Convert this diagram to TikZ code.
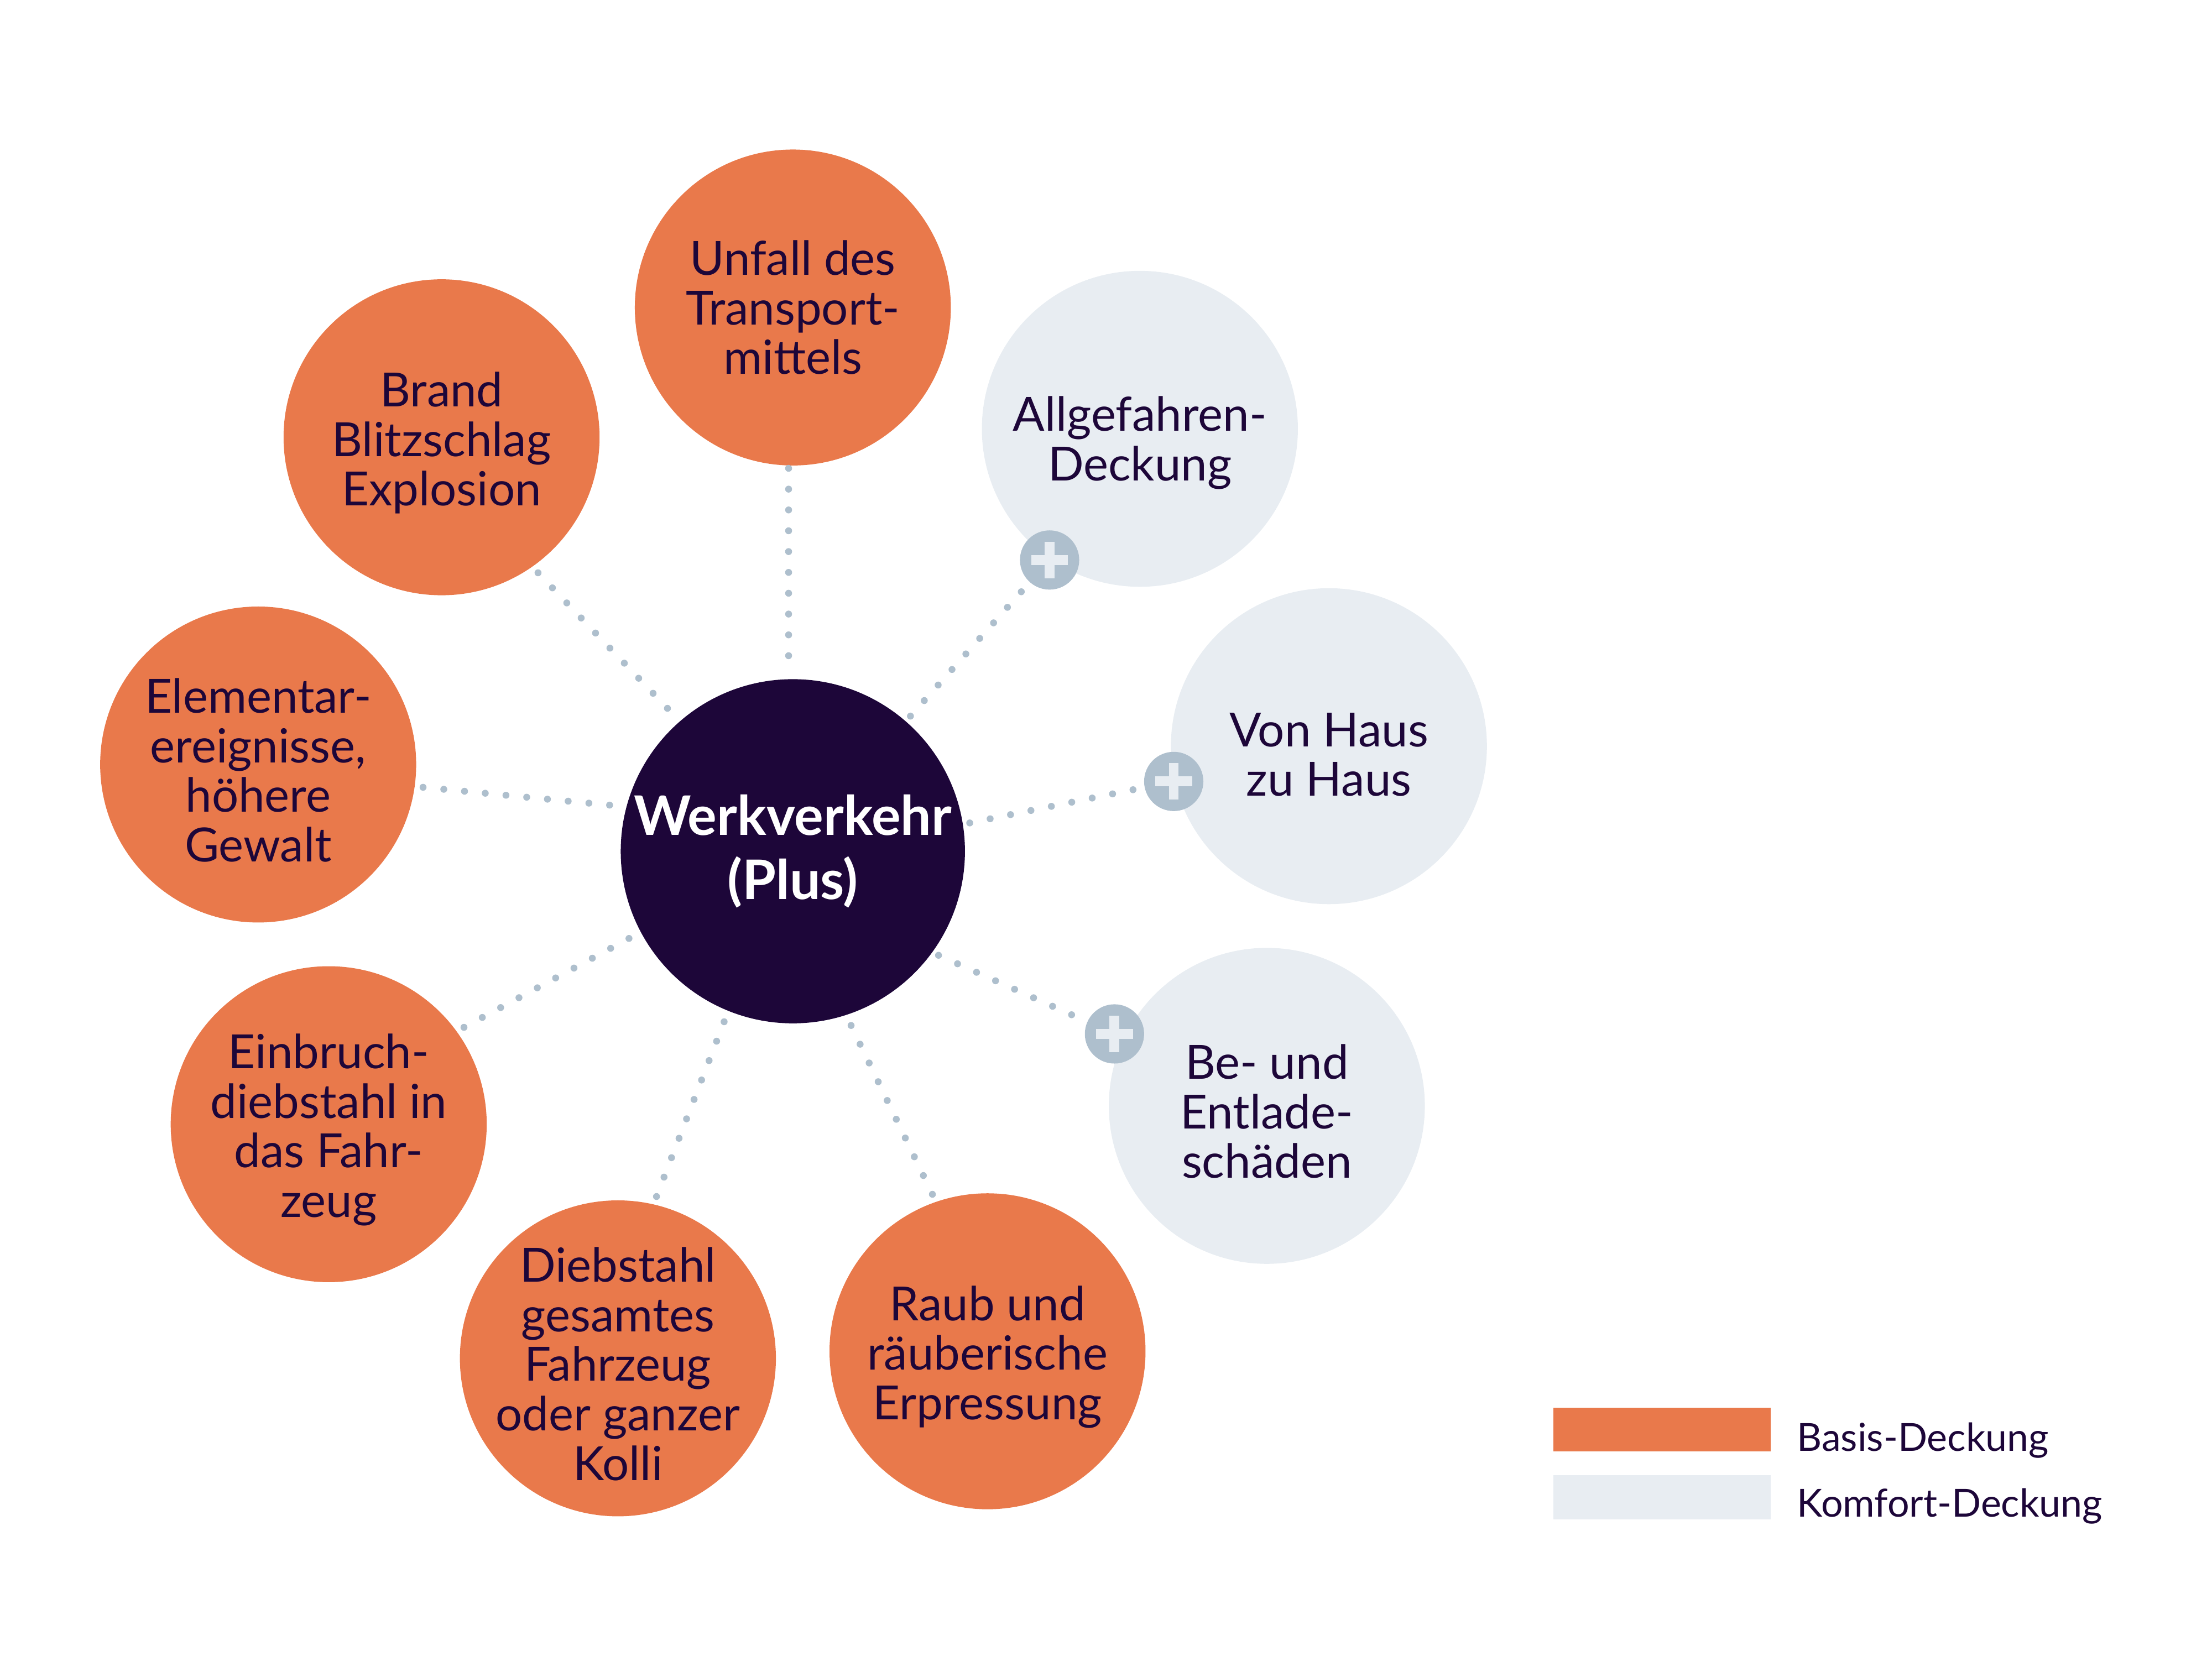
\documentclass[tikz,border=0pt]{standalone}
\usepackage{fontspec}
\setmainfont{Lato}
\definecolor{basisorange}{HTML}{E9794B}
\definecolor{komfortgray}{HTML}{E8EDF2}
\definecolor{navy}{HTML}{1D0639}
\definecolor{dotgray}{HTML}{AEBFCD}
\begin{document}
\begin{tikzpicture}[
    basis/.style={circle,fill=basisorange,minimum size=2.24cm,inner sep=0pt,outer sep=0pt},
    komfort/.style={basis,fill=komfortgray},
    caption/.style={align=center,text=navy,inner sep=0pt,yshift=-0.04cm,font=\fontsize{9.5}{10}\selectfont},
    core/.style={circle,fill=navy,minimum size=2.44cm,inner sep=0pt,outer sep=0pt,
      align=center,text=white,font=\bfseries\fontsize{11}{13}\selectfont},
    dots/.style={dotgray,line width=1.4pt,line cap=round,dash pattern=on 0pt off 4.2pt},
    plusmark/.style={circle,fill=dotgray,minimum size=0.42cm,inner sep=0pt,outer sep=0pt,
      path picture={
        \fill[komfortgray] ([shift={(-0.13,-0.035)}]path picture bounding box.center)
          rectangle ([shift={(0.13,0.035)}]path picture bounding box.center);
        \fill[komfortgray] ([shift={(-0.035,-0.13)}]path picture bounding box.center)
          rectangle ([shift={(0.035,0.13)}]path picture bounding box.center);}},
    legbox/.style={minimum width=1.54cm,minimum height=0.31cm,inner sep=0pt},
    legtext/.style={anchor=west,inner sep=0pt,text=navy,font=\fontsize{7.8}{9}\selectfont}
  ]
  \useasboundingbox (0,0) rectangle (15.68,-11.85);

  \node[core] (werk) at (5.62,-6.035) {Werkverkehr\\(Plus)};

  \node[basis] (unfall) at (5.62,-2.18) {};
  \node[caption,yshift=0.04cm] (unfalltxt) at (unfall) {Unfall des\\Transport-\\mittels};
  \node[basis] (brand) at (3.13,-3.10) {};
  \node[caption] (brandtxt) at (brand) {Brand\\Blitzschlag\\Explosion};
  \node[basis] (elem) at (1.83,-5.42) {};
  \node[caption] (elemtxt) at (elem) {Elementar-\\ereignisse,\\höhere\\Gewalt};
  \node[basis] (einbruch) at (2.33,-7.97) {};
  \node[caption] (einbruchtxt) at (einbruch) {Einbruch-\\diebstahl in\\das Fahr-\\zeug};
  \node[basis] (dieb) at (4.38,-9.63) {};
  \node[caption] (diebtxt) at (dieb) {Diebstahl\\gesamtes\\Fahrzeug\\oder ganzer\\Kolli};
  \node[basis] (raub) at (7.00,-9.58) {};
  \node[caption] (raubtxt) at (raub) {Raub und\\räuberische\\Erpressung};

  \node[komfort] (allgef) at (8.08,-3.04) {};
  \node[caption,yshift=-0.06cm] (allgeftxt) at (allgef) {Allgefahren-\\Deckung};
  \node[komfort] (haus) at (9.42,-5.29) {};
  \node[caption,yshift=-0.02cm] (haustxt) at (haus) {Von Haus\\zu Haus};
  \node[komfort] (entlade) at (8.98,-7.84) {};
  \node[caption] (entladetxt) at (entlade) {Be- und\\Entlade-\\schäden};

  \node[plusmark] (plusA) at (7.44,-3.97) {};
  \node[plusmark] (plusB) at (8.32,-5.54) {};
  \node[plusmark] (plusC) at (7.90,-7.33) {};

  \draw[dots] ([xshift=-0.03cm,yshift=-0.02cm]unfall.south) -- ([xshift=-0.03cm,yshift=0.08cm]werk.north);
  \foreach \from/\to/\a in {brand.-55/werk.131/0.1, elem.-8/werk.165/0.05,
      einbruch.36/werk.208/0.05, dieb.77/werk.248/0.02, raub.109/werk.-72/0.02} {
    \draw[dots,shorten <=0.06cm,shorten >=\a cm] (\from) -- (\to);
  }
  \foreach \from/\to in {werk.49/plusA, werk.9/plusB, werk.-36/plusC} {
    \draw[dots,shorten <=0.05cm,shorten >=0.02cm] (\from) -- (\to);
  }

  \node[legbox,fill=basisorange] (legbasis) at (11.78,-10.135) {};
  \node[legbox,fill=komfortgray] (legkomfort) at (11.78,-10.615) {};
  \node[legtext] (txtbasis) at (12.73,-10.21) {Basis-Deckung};
  \node[legtext] (txtkomfort) at (12.73,-10.68) {Komfort-Deckung};
\end{tikzpicture}
\end{document}
